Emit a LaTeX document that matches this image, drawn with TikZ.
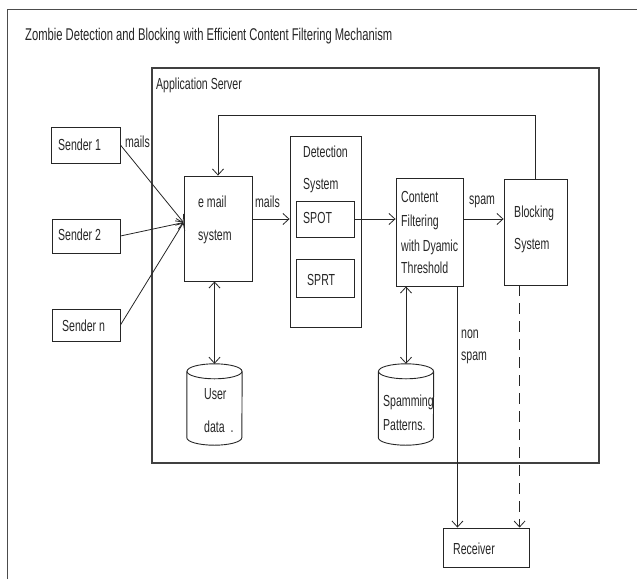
\documentclass[tikz,border=0pt]{standalone}
\usepackage{fontspec}
\setmainfont{Liberation Sans}[FakeStretch=0.66]
\usetikzlibrary{arrows.meta,positioning,calc,shapes.geometric}

\tikzset{
  box/.style={draw, line width=0.9pt, inner sep=0pt},
  arr/.style={line width=0.8pt, -{Straight Barb[length=6pt,width=11pt]}},
  dblarr/.style={line width=0.8pt, {Straight Barb[length=6pt,width=11pt]}-{Straight Barb[length=6pt,width=11pt]}},
  db/.style={inner sep=0pt},
  txt/.style={anchor=west, inner sep=0pt, text height=11.5pt, text depth=0pt, font=\fontsize{16}{19}\selectfont},
}
% drum outline round a database node
\newcommand{\drumdb}[1]{%
  \draw[line width=0.9pt] ($(#1.north)+(0,7.5)$) ellipse [x radius=27.5pt, y radius=7.5pt];
  \draw[line width=0.9pt] ($(#1.north west)+(0,7.5)$) -- ($(#1.south west)+(0,-7.5)$)
    arc [start angle=180, end angle=360, x radius=27.5pt, y radius=7.5pt]
    -- ($(#1.north east)+(0,7.5)$);
}

\begin{document}
\begin{tikzpicture}[x=1pt, y=-1pt, black!85]
    \useasboundingbox (0,0) rectangle (637,579);

    % Outer frame and title
    \draw[line width=0.9pt, black!70] (7,579) -- (7,9) -- (637,9);
    \node[txt, font=\fontsize{17}{20}\selectfont] (title) at (25,35) {Zombie Detection and Blocking with Efficient Content Filtering Mechanism};

    % Application server
    \draw[line width=1.1pt, black!75] (152,68) rectangle (599,463);
    \node[txt] (appsrv) at (156,84) {Application Server};

    % Senders
    \node[box, minimum width=69pt, minimum height=36pt] (sender1) at (85.5,145) {};
    \node[box, minimum width=68pt, minimum height=34pt] (sender2) at (86,236) {};
    \node[box, minimum width=68pt, minimum height=32pt] (sendern) at (86,325) {};
    \node[txt] (s1txt) at (58,145) {Sender 1};
    \node[txt] (s2txt) at (58,235) {Sender 2};
    \node[txt] (sntxt) at (62,326) {Sender n};
    \node[txt] (mails1) at (125,142) {mails};

    % E mail system
    \node[box, minimum width=68pt, minimum height=105pt] (email) at (218,228.5) {};
    \node[txt] (emtxt1) at (198,202) {e mail};
    \node[txt] (emtxt2) at (198,235) {system};
    \coordinate (mailin) at ($(email.west)+(0,-6)$);

    % Detection system
    \node[box, minimum width=71pt, minimum height=191pt] (detect) at (325.5,231.5) {};
    \node[txt] (dettxt1) at (303,152) {Detection};
    \node[txt] (dettxt2) at (303,184) {System};
    \node[box, minimum width=58pt, minimum height=36pt] (spot) at (325,219) {};
    \node[box, minimum width=58pt, minimum height=38pt] (sprt) at (325,278) {};
    \node[txt] (spottxt) at (303,218) {SPOT};
    \node[txt] (sprttxt) at (307,280) {SPRT};

    % Content filtering
    \node[box, minimum width=67pt, minimum height=108pt] (filter) at (429.5,232) {};
    \node[txt] (cf1) at (401,197) {Content};
    \node[txt] (cf2) at (401,221) {Filtering};
    \node[txt] (cf3) at (401,246) {with Dyamic};
    \node[txt] (cf4) at (401,268) {Threshold};

    % Blocking system
    \node[box, minimum width=63pt, minimum height=106pt] (block) at (535.5,232) {};
    \node[txt] (bl1) at (514,212) {Blocking};
    \node[txt] (bl2) at (514,244) {System};

    % Databases
    \node[db, minimum width=55pt, minimum height=81pt] (userdb) at (214.5,404.5) {};
    \drumdb{userdb}
    \node[txt] (ud1) at (204,394) {User};
    \node[txt] (ud2) at (204,427) {data\ \ .};
    \node[db, minimum width=55pt, minimum height=81pt] (patterndb) at (406,404.5) {};
    \drumdb{patterndb}
    \node[txt] (sp1) at (383,401) {Spamming};
    \node[txt] (sp2) at (383,425) {Patterns.};

    % Receiver
    \node[box, minimum width=86pt, minimum height=39pt] (receiver) at (486,547.5) {};
    \node[txt] (rcvtxt) at (453,549) {Receiver};

    % Connectors
    \draw[arr] (sender1.east) -- (mailin);
    \draw[arr] (sender2.east) -- (mailin);
    \draw[arr] (sendern.east) -- (mailin);
    \draw[arr] (email.east |- spot) -- (detect.west |- spot);
    \node[txt] (mails2) at (255,202) {mails};
    \draw[arr] (spot.east) -- (filter.west |- spot.east);
    \draw[arr] (filter.east |- spot) -- (block.west |- spot);
    \node[txt] (spamlbl) at (469,199) {spam};
    \draw[arr] (block.north) -- ++(0,-63) -| (email.north);
    \draw[dblarr] (userdb.north |- email.south) -- (userdb.north);
    \draw[dblarr] (patterndb.north |- filter.south) -- (patterndb.north);
    \draw[arr] ([xshift=-6pt]filter.south east) -- ([xshift=-6pt]filter.south east |- receiver.north);
    \node[txt] (non1) at (461,333) {non};
    \node[txt] (non2) at (461,355) {spam};
    \draw[arr, dash pattern=on 11pt off 7pt] ([xshift=16pt]block.south west) -- ([xshift=16pt]block.south west |- receiver.north);
\end{tikzpicture}
\end{document}
